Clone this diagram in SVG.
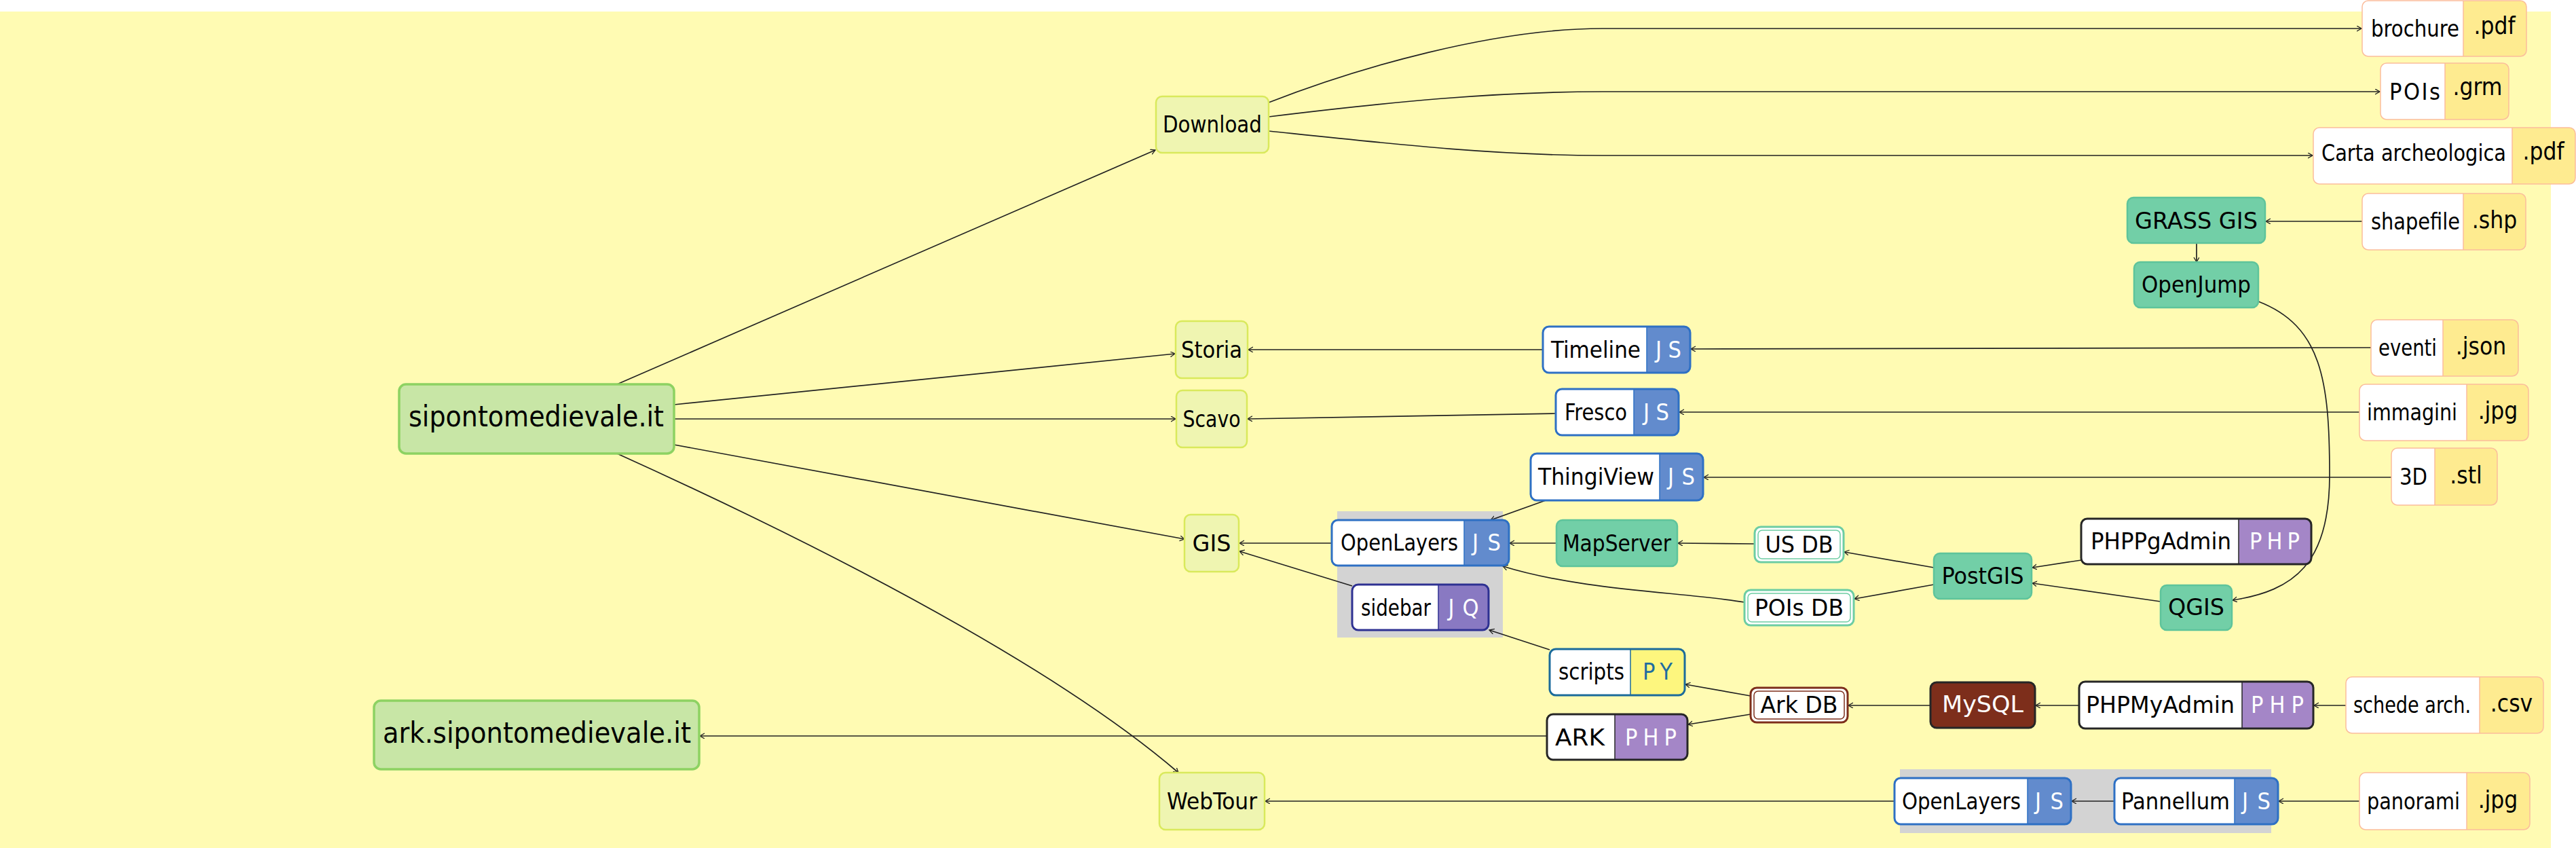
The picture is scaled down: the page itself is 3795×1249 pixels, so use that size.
<svg xmlns="http://www.w3.org/2000/svg" width="3795" height="1249" viewBox="0 0 3795 1249">
<style>
text{font-family:"DejaVu Sans Condensed","DejaVu Sans",sans-serif;font-stretch:condensed;font-size:34px;fill:#000}
.big{font-size:42px}
.w{fill:#fff}
.py{fill:#1e6da0}
.ext{font-size:35px}
.e{fill:none;stroke:#222;stroke-width:1.7;marker-end:url(#arr)}
.main{fill:#c8e6a6;stroke:#8dd262;stroke-width:3.5}
.page{fill:#eff5b1;stroke:#d9e95c;stroke-width:2.5}
.tool{fill:#72cfa7;stroke:#5ec49b;stroke-width:2.5}
.white{fill:#fff}
.js{fill:none;stroke:#2e70c4;stroke-width:3}
.jsf{fill:#628bcd}
.jq{fill:none;stroke:#2e3192;stroke-width:3}
.jqf{fill:#8979c2}
.php{fill:none;stroke:#262626;stroke-width:3}
.phpf{fill:#a486c7}
.pys{fill:none;stroke:#1b6b9b;stroke-width:3}
.pyf{fill:#fdf67e}
.file{fill:none;stroke:#fbbd9c;stroke-width:1.5}
.filef{fill:#feeb90}
.dbo{fill:#fff;stroke:#6dcda3;stroke-width:3}
.dbi{fill:none;stroke:#6dcda3;stroke-width:1.5}
.ado{fill:#fff;stroke:#7d2e1b;stroke-width:3}
.adi{fill:none;stroke:#7d2e1b;stroke-width:1.5}
.grp{fill:#d3d3d3}
</style>
<defs>
<marker id="arr" markerUnits="userSpaceOnUse" markerWidth="10" markerHeight="10" refX="7" refY="4" orient="auto">
<path d="M0,0 L7,4 L0,8" fill="none" stroke="#222" stroke-width="1.3"/>
</marker>
</defs>
<rect x="0" y="0" width="3795" height="1249" fill="#fff"/>
<rect x="0" y="17" width="3758" height="1232" fill="#fffbb3"/>
<rect class="grp" x="1970" y="753" width="244" height="186"/>
<rect class="grp" x="2799" y="1133" width="547" height="94"/>

<g id="edges">
<path class="e" d="M909,566 L1702,221"/>
<path class="e" d="M993,596 L1731,521"/>
<path class="e" d="M993,617 L1732,617"/>
<path class="e" d="M993,655 L1745,794"/>
<path class="e" d="M909,668 C1309,849 1586,1009 1736,1138"/>
<path class="e" d="M1869,151 C2000,100 2200,42 2361,42 L3479,42"/>
<path class="e" d="M1869,172 C2050,150 2200,135 2361,135 L3506,135"/>
<path class="e" d="M1869,193 C2050,212 2200,229 2361,229 L3407,229"/>
<path class="e" d="M3480,326 L3338,326"/>
<path class="e" d="M3236,358 L3236,386"/>
<path class="e" d="M3327,444 C3420,480 3432,560 3432,700 C3432,830 3380,870 3289,884"/>
<path class="e" d="M3493,512 L2491,514"/>
<path class="e" d="M2273,515 L1839,515"/>
<path class="e" d="M3476,607 L2474,607"/>
<path class="e" d="M2292,609 L1838,617"/>
<path class="e" d="M3523,703 L2510,703"/>
<path class="e" d="M2277,737 L2196,766"/>
<path class="e" d="M1962,800 L1826,800"/>
<path class="e" d="M2293,800 L2224,800"/>
<path class="e" d="M2585,801 L2472,800"/>
<path class="e" d="M2849,836 L2717,813"/>
<path class="e" d="M2849,861 L2732,882"/>
<path class="e" d="M2570,887 C2480,872 2330,870 2214,834"/>
<path class="e" d="M3066,825 L2994,836"/>
<path class="e" d="M3183,886 L2994,859"/>
<path class="e" d="M1992,863 L1826,812"/>
<path class="e" d="M2283,957 L2194,928"/>
<path class="e" d="M2579,1025 L2483,1008"/>
<path class="e" d="M2579,1052 L2487,1067"/>
<path class="e" d="M2844,1039 L2723,1039"/>
<path class="e" d="M3063,1039 L2999,1039"/>
<path class="e" d="M3456,1039 L3409,1039"/>
<path class="e" d="M2279,1084 L1031,1084"/>
<path class="e" d="M2791,1180 L1864,1180"/>
<path class="e" d="M3115,1180 L3052,1180"/>
<path class="e" d="M3476,1180 L3357,1180"/>
</g>

<g id="sito">
<rect class="main" x="588" y="566" width="405" height="102" rx="10"/>
<text class="big" x="790" y="628" text-anchor="middle" textLength="376" lengthAdjust="spacingAndGlyphs">sipontomedievale.it</text>
</g>
<g id="arksito">
<rect class="main" x="551" y="1032" width="479" height="101" rx="10"/>
<text class="big" x="791" y="1094" text-anchor="middle" textLength="454" lengthAdjust="spacingAndGlyphs">ark.sipontomedievale.it</text>
</g>

<g id="download"><rect class="page" x="1703" y="142" width="166" height="83" rx="9"/>
<text x="1786" y="195" text-anchor="middle" textLength="146" lengthAdjust="spacingAndGlyphs">Download</text></g>
<g id="storia"><rect class="page" x="1732" y="473" width="106" height="84" rx="9"/>
<text x="1785" y="527" text-anchor="middle" textLength="90" lengthAdjust="spacingAndGlyphs">Storia</text></g>
<g id="scavo"><rect class="page" x="1733" y="575" width="104" height="84" rx="9"/>
<text x="1785" y="629" text-anchor="middle" textLength="85" lengthAdjust="spacingAndGlyphs">Scavo</text></g>
<g id="gis"><rect class="page" x="1745" y="758" width="80" height="84" rx="9"/>
<text x="1785" y="812" text-anchor="middle" textLength="57" lengthAdjust="spacingAndGlyphs">GIS</text></g>
<g id="webtour"><rect class="page" x="1708" y="1138" width="155" height="84" rx="9"/>
<text x="1785.5" y="1192" text-anchor="middle" textLength="133" lengthAdjust="spacingAndGlyphs">WebTour</text></g>

<g id="timeline">
<rect class="white" x="2273" y="481" width="217" height="68" rx="9"/>
<path class="jsf" d="M2426,481 H2481 Q2490,481 2490,490 V540 Q2490,549 2481,549 H2426 Z"/>
<rect class="js" x="2273" y="481" width="217" height="68" rx="9"/>
<line x1="2426" y1="481" x2="2426" y2="549" stroke="#2e70c4" stroke-width="1.5"/>
<text x="2285" y="527" textLength="132" lengthAdjust="spacingAndGlyphs">Timeline</text>
<text class="w" x="2458" y="527" text-anchor="middle" textLength="38" lengthAdjust="spacing">JS</text>
</g>
<g id="fresco">
<rect class="white" x="2292" y="573" width="181" height="68" rx="9"/>
<path class="jsf" d="M2407,573 H2464 Q2473,573 2473,582 V632 Q2473,641 2464,641 H2407 Z"/>
<rect class="js" x="2292" y="573" width="181" height="68" rx="9"/>
<line x1="2407" y1="573" x2="2407" y2="641" stroke="#2e70c4" stroke-width="1.5"/>
<text x="2305" y="619" textLength="92" lengthAdjust="spacingAndGlyphs">Fresco</text>
<text class="w" x="2440" y="619" text-anchor="middle" textLength="38" lengthAdjust="spacing">JS</text>
</g>
<g id="thingiview">
<rect class="white" x="2255" y="668" width="254" height="69" rx="9"/>
<path class="jsf" d="M2445,668 H2500 Q2509,668 2509,677 V728 Q2509,737 2500,737 H2445 Z"/>
<rect class="js" x="2255" y="668" width="254" height="69" rx="9"/>
<line x1="2445" y1="668" x2="2445" y2="737" stroke="#2e70c4" stroke-width="1.5"/>
<text x="2266" y="714" textLength="171" lengthAdjust="spacingAndGlyphs">ThingiView</text>
<text class="w" x="2477" y="714" text-anchor="middle" textLength="40" lengthAdjust="spacing">JS</text>
</g>
<g id="openlayers">
<rect class="white" x="1962" y="766" width="261" height="67" rx="9"/>
<path class="jsf" d="M2157,766 H2214 Q2223,766 2223,775 V824 Q2223,833 2214,833 H2157 Z"/>
<rect class="js" x="1962" y="766" width="261" height="67" rx="9"/>
<line x1="2157" y1="766" x2="2157" y2="833" stroke="#2e70c4" stroke-width="1.5"/>
<text x="1975" y="811" textLength="173" lengthAdjust="spacingAndGlyphs">OpenLayers</text>
<text class="w" x="2190" y="811" text-anchor="middle" textLength="42" lengthAdjust="spacing">JS</text>
</g>
<g id="sidebar">
<rect class="white" x="1992" y="861" width="201" height="67" rx="9"/>
<path class="jqf" d="M2119,861 H2184 Q2193,861 2193,870 V919 Q2193,928 2184,928 H2119 Z"/>
<rect class="jq" x="1992" y="861" width="201" height="67" rx="9"/>
<line x1="2119" y1="861" x2="2119" y2="928" stroke="#2e3192" stroke-width="1.5"/>
<text x="2005" y="907" textLength="103" lengthAdjust="spacingAndGlyphs">sidebar</text>
<text class="w" x="2156" y="907" text-anchor="middle" textLength="45" lengthAdjust="spacing">JQ</text>
</g>
<g id="openlayers2">
<rect class="white" x="2791" y="1146" width="260" height="68" rx="9"/>
<path class="jsf" d="M2987,1146 H3042 Q3051,1146 3051,1155 V1205 Q3051,1214 3042,1214 H2987 Z"/>
<rect class="js" x="2791" y="1146" width="260" height="68" rx="9"/>
<line x1="2987" y1="1146" x2="2987" y2="1214" stroke="#2e70c4" stroke-width="1.5"/>
<text x="2802" y="1192" textLength="175" lengthAdjust="spacingAndGlyphs">OpenLayers</text>
<text class="w" x="3019" y="1192" text-anchor="middle" textLength="42" lengthAdjust="spacing">JS</text>
</g>
<g id="pannellum">
<rect class="white" x="3115" y="1146" width="241" height="68" rx="9"/>
<path class="jsf" d="M3292,1146 H3347 Q3356,1146 3356,1155 V1205 Q3356,1214 3347,1214 H3292 Z"/>
<rect class="js" x="3115" y="1146" width="241" height="68" rx="9"/>
<line x1="3292" y1="1146" x2="3292" y2="1214" stroke="#2e70c4" stroke-width="1.5"/>
<text x="3125" y="1192" textLength="160" lengthAdjust="spacingAndGlyphs">Pannellum</text>
<text class="w" x="3324" y="1192" text-anchor="middle" textLength="42" lengthAdjust="spacing">JS</text>
</g>

<g id="phppgadmin">
<rect class="white" x="3066" y="764" width="339" height="67" rx="9"/>
<path class="phpf" d="M3298,764 H3396 Q3405,764 3405,773 V822 Q3405,831 3396,831 H3298 Z"/>
<rect class="php" x="3066" y="764" width="339" height="67" rx="9"/>
<line x1="3298" y1="764" x2="3298" y2="831" stroke="#262626" stroke-width="1.5"/>
<text x="3080" y="809" textLength="207" lengthAdjust="spacingAndGlyphs">PHPPgAdmin</text>
<text class="w" x="3351" y="809" text-anchor="middle" textLength="74" lengthAdjust="spacing">PHP</text>
</g>
<g id="phpmyadmin">
<rect class="white" x="3063" y="1004" width="345" height="69" rx="9"/>
<path class="phpf" d="M3303,1004 H3399 Q3408,1004 3408,1013 V1064 Q3408,1073 3399,1073 H3303 Z"/>
<rect class="php" x="3063" y="1004" width="345" height="69" rx="9"/>
<line x1="3303" y1="1004" x2="3303" y2="1073" stroke="#262626" stroke-width="1.5"/>
<text x="3073" y="1050" textLength="219" lengthAdjust="spacingAndGlyphs">PHPMyAdmin</text>
<text class="w" x="3355" y="1050" text-anchor="middle" textLength="78" lengthAdjust="spacing">PHP</text>
</g>
<g id="ark">
<rect class="white" x="2279" y="1052" width="207" height="67" rx="9"/>
<path class="phpf" d="M2379,1052 H2477 Q2486,1052 2486,1061 V1110 Q2486,1119 2477,1119 H2379 Z"/>
<rect class="php" x="2279" y="1052" width="207" height="67" rx="9"/>
<line x1="2379" y1="1052" x2="2379" y2="1119" stroke="#262626" stroke-width="1.5"/>
<text x="2291" y="1098" textLength="73" lengthAdjust="spacingAndGlyphs">ARK</text>
<text class="w" x="2432" y="1098" text-anchor="middle" textLength="76" lengthAdjust="spacing">PHP</text>
</g>
<g id="scripts">
<rect class="white" x="2283" y="956" width="199" height="68" rx="9"/>
<path class="pyf" d="M2402,956 H2473 Q2482,956 2482,965 V1015 Q2482,1024 2473,1024 H2402 Z"/>
<rect class="pys" x="2283" y="956" width="199" height="68" rx="9"/>
<line x1="2402" y1="956" x2="2402" y2="1024" stroke="#1b6b9b" stroke-width="1.5"/>
<text x="2296" y="1001" textLength="97" lengthAdjust="spacingAndGlyphs">scripts</text>
<text class="py" x="2442" y="1001" text-anchor="middle" textLength="44" lengthAdjust="spacing">PY</text>
</g>

<g id="grass"><rect class="tool" x="3134" y="291" width="203" height="67" rx="9"/>
<text x="3235.5" y="337" text-anchor="middle" textLength="181" lengthAdjust="spacingAndGlyphs">GRASS GIS</text></g>
<g id="openjump"><rect class="tool" x="3144" y="386" width="183" height="67" rx="9"/>
<text x="3235.5" y="431" text-anchor="middle" textLength="161" lengthAdjust="spacingAndGlyphs">OpenJump</text></g>
<g id="mapserver"><rect class="tool" x="2293" y="766" width="178" height="68" rx="9"/>
<text x="2382" y="812" text-anchor="middle" textLength="160" lengthAdjust="spacingAndGlyphs">MapServer</text></g>
<g id="postgis"><rect class="tool" x="2849" y="815" width="144" height="67" rx="9"/>
<text x="2921" y="860" text-anchor="middle" textLength="121" lengthAdjust="spacingAndGlyphs">PostGIS</text></g>
<g id="qgis"><rect class="tool" x="3183" y="862" width="105" height="66" rx="9"/>
<text x="3235.5" y="906" text-anchor="middle" textLength="83" lengthAdjust="spacingAndGlyphs">QGIS</text></g>

<g id="usdb"><rect class="dbo" x="2585" y="776" width="131" height="52" rx="9"/>
<rect class="dbi" x="2590" y="781" width="121" height="42" rx="6"/>
<text x="2650.5" y="814" text-anchor="middle" textLength="100" lengthAdjust="spacingAndGlyphs">US DB</text></g>
<g id="poisdb"><rect class="dbo" x="2570" y="869" width="161" height="52" rx="9"/>
<rect class="dbi" x="2575" y="874" width="151" height="42" rx="6"/>
<text x="2650.5" y="907" text-anchor="middle" textLength="131" lengthAdjust="spacingAndGlyphs">POIs DB</text></g>
<g id="arkdb"><rect class="ado" x="2579" y="1013" width="143" height="51" rx="9"/>
<rect class="adi" x="2584" y="1018" width="133" height="41" rx="6"/>
<text x="2650.5" y="1050" text-anchor="middle" textLength="114" lengthAdjust="spacingAndGlyphs">Ark DB</text></g>
<g id="mysql"><rect x="2844" y="1005" width="154" height="67" rx="9" fill="#7d2e1b" stroke="#262626" stroke-width="3"/>
<text class="w" x="2921" y="1049" text-anchor="middle" textLength="120" lengthAdjust="spacingAndGlyphs">MySQL</text></g>

<g id="brochure">
<rect class="white" x="3480" y="1" width="242" height="82" rx="9"/>
<path class="filef" d="M3629,1 H3713 Q3722,1 3722,10 V74 Q3722,83 3713,83 H3629 Z"/>
<rect class="file" x="3480" y="1" width="242" height="82" rx="9"/>
<line x1="3629" y1="1" x2="3629" y2="83" stroke="#fbbd9c" stroke-width="1.5"/>
<text x="3493" y="54" textLength="130" lengthAdjust="spacingAndGlyphs">brochure</text>
<text class="ext" x="3675" y="50" text-anchor="middle">.pdf</text>
</g>
<g id="poisgrm">
<rect class="white" x="3507" y="93" width="189" height="83" rx="9"/>
<path class="filef" d="M3602,93 H3687 Q3696,93 3696,102 V167 Q3696,176 3687,176 H3602 Z"/>
<rect class="file" x="3507" y="93" width="189" height="83" rx="9"/>
<line x1="3602" y1="93" x2="3602" y2="176" stroke="#fbbd9c" stroke-width="1.5"/>
<text x="3520" y="147" textLength="75" lengthAdjust="spacing">POIs</text>
<text class="ext" x="3650" y="140" text-anchor="middle">.grm</text>
</g>
<g id="carta">
<rect class="white" x="3408" y="188" width="386" height="83" rx="9"/>
<path class="filef" d="M3701,188 H3785 Q3794,188 3794,197 V262 Q3794,271 3785,271 H3701 Z"/>
<rect class="file" x="3408" y="188" width="386" height="83" rx="9"/>
<line x1="3701" y1="188" x2="3701" y2="271" stroke="#fbbd9c" stroke-width="1.5"/>
<text x="3420" y="237" textLength="272" lengthAdjust="spacingAndGlyphs">Carta archeologica</text>
<text class="ext" x="3747" y="235" text-anchor="middle">.pdf</text>
</g>
<g id="shapefile">
<rect class="white" x="3480" y="285" width="241" height="83" rx="9"/>
<path class="filef" d="M3629,285 H3712 Q3721,285 3721,294 V359 Q3721,368 3712,368 H3629 Z"/>
<rect class="file" x="3480" y="285" width="241" height="83" rx="9"/>
<line x1="3629" y1="285" x2="3629" y2="368" stroke="#fbbd9c" stroke-width="1.5"/>
<text x="3493" y="338" textLength="131" lengthAdjust="spacingAndGlyphs">shapefile</text>
<text class="ext" x="3675" y="336" text-anchor="middle">.shp</text>
</g>
<g id="eventi">
<rect class="white" x="3493" y="471" width="217" height="83" rx="9"/>
<path class="filef" d="M3599,471 H3701 Q3710,471 3710,480 V545 Q3710,554 3701,554 H3599 Z"/>
<rect class="file" x="3493" y="471" width="217" height="83" rx="9"/>
<line x1="3599" y1="471" x2="3599" y2="554" stroke="#fbbd9c" stroke-width="1.5"/>
<text x="3504" y="524" textLength="86" lengthAdjust="spacingAndGlyphs">eventi</text>
<text class="ext" x="3655" y="522" text-anchor="middle">.json</text>
</g>
<g id="immagini">
<rect class="white" x="3476" y="566" width="249" height="83" rx="9"/>
<path class="filef" d="M3634,566 H3716 Q3725,566 3725,575 V640 Q3725,649 3716,649 H3634 Z"/>
<rect class="file" x="3476" y="566" width="249" height="83" rx="9"/>
<line x1="3634" y1="566" x2="3634" y2="649" stroke="#fbbd9c" stroke-width="1.5"/>
<text x="3487" y="619" textLength="133" lengthAdjust="spacingAndGlyphs">immagini</text>
<text class="ext" x="3680" y="617" text-anchor="middle">.jpg</text>
</g>
<g id="stl3d">
<rect class="white" x="3523" y="660" width="156" height="84" rx="9"/>
<path class="filef" d="M3587,660 H3670 Q3679,660 3679,669 V735 Q3679,744 3670,744 H3587 Z"/>
<rect class="file" x="3523" y="660" width="156" height="84" rx="9"/>
<line x1="3587" y1="660" x2="3587" y2="744" stroke="#fbbd9c" stroke-width="1.5"/>
<text x="3535" y="714" textLength="41" lengthAdjust="spacingAndGlyphs">3D</text>
<text class="ext" x="3633" y="712" text-anchor="middle">.stl</text>
</g>
<g id="schede">
<rect class="white" x="3456" y="997" width="291" height="83" rx="9"/>
<path class="filef" d="M3653,997 H3738 Q3747,997 3747,1006 V1071 Q3747,1080 3738,1080 H3653 Z"/>
<rect class="file" x="3456" y="997" width="291" height="83" rx="9"/>
<line x1="3653" y1="997" x2="3653" y2="1080" stroke="#fbbd9c" stroke-width="1.5"/>
<text x="3467" y="1050" textLength="173" lengthAdjust="spacingAndGlyphs">schede arch.</text>
<text class="ext" x="3700" y="1048" text-anchor="middle">.csv</text>
</g>
<g id="panorami">
<rect class="white" x="3476" y="1138" width="251" height="84" rx="9"/>
<path class="filef" d="M3634,1138 H3718 Q3727,1138 3727,1147 V1213 Q3727,1222 3718,1222 H3634 Z"/>
<rect class="file" x="3476" y="1138" width="251" height="84" rx="9"/>
<line x1="3634" y1="1138" x2="3634" y2="1222" stroke="#fbbd9c" stroke-width="1.5"/>
<text x="3487" y="1192" textLength="137" lengthAdjust="spacingAndGlyphs">panorami</text>
<text class="ext" x="3680" y="1190" text-anchor="middle">.jpg</text>
</g>
</svg>
